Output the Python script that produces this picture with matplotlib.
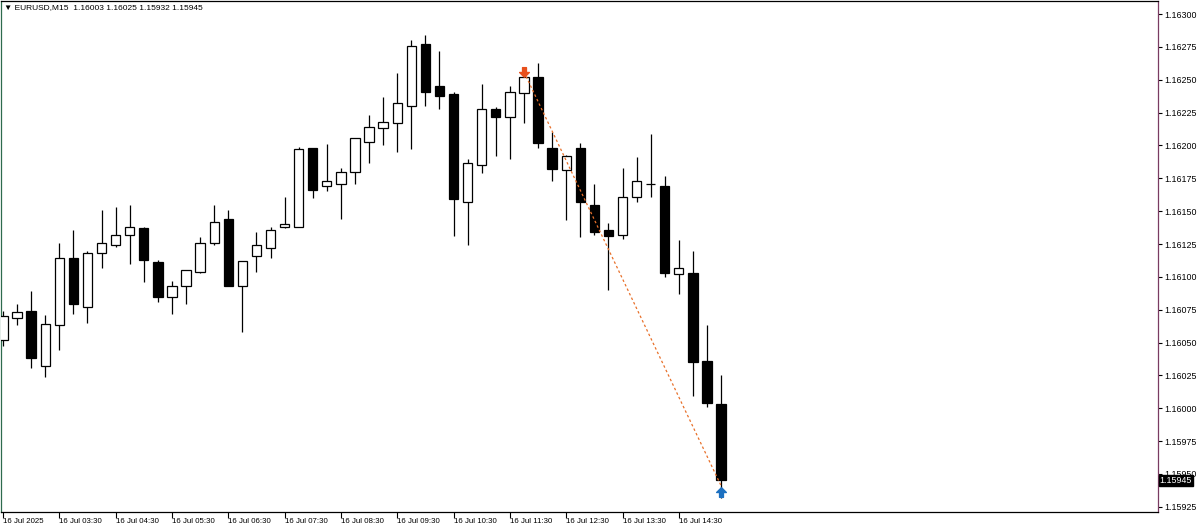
import numpy as np
import matplotlib
matplotlib.use("Agg")
import matplotlib.pyplot as plt
import pandas as pd
from matplotlib.transforms import blended_transform_factory

plt.rcParams['font.family'] = ['Liberation Sans', 'DejaVu Sans']

# EURUSD M15 candles, 16 Jul 2025 from 02:30
times = pd.date_range('2025-07-16 02:30', periods=52, freq='15min')
opens = [1.16052, 1.16069, 1.16074, 1.16032, 1.16063, 1.16114, 1.16077, 1.16118, 1.16124, 1.16132,
         1.16137, 1.16111, 1.16085, 1.16093, 1.16104, 1.16126, 1.16144, 1.16093, 1.16116, 1.16122,
         1.16138, 1.16138, 1.16198, 1.16169, 1.16171, 1.16180, 1.16203, 1.16213, 1.16217, 1.16230,
         1.16277, 1.16245, 1.16239, 1.16157, 1.16185, 1.16228, 1.16222, 1.16240, 1.16252, 1.16198,
         1.16181, 1.16198, 1.16155, 1.16136, 1.16132, 1.16161, 1.16171, 1.16169, 1.16102, 1.16103,
         1.16036, 1.16003]
highs = [1.16074, 1.16079, 1.16089, 1.16071, 1.16126, 1.16136, 1.16120, 1.16151, 1.16153, 1.16155,
         1.16138, 1.16113, 1.16097, 1.16105, 1.16130, 1.16155, 1.16151, 1.16112, 1.16134, 1.16138,
         1.16161, 1.16199, 1.16198, 1.16201, 1.16183, 1.16206, 1.16223, 1.16237, 1.16255, 1.16280,
         1.16284, 1.16272, 1.16241, 1.16190, 1.16247, 1.16229, 1.16245, 1.16260, 1.16263, 1.16210,
         1.16193, 1.16202, 1.16171, 1.16141, 1.16183, 1.16191, 1.16209, 1.16177, 1.16128, 1.16120,
         1.16063, 1.16025]
lows = [1.16047, 1.16063, 1.16031, 1.16024, 1.16044, 1.16072, 1.16065, 1.16107, 1.16123, 1.16110,
        1.16096, 1.16081, 1.16072, 1.16079, 1.16103, 1.16124, 1.16093, 1.16058, 1.16104, 1.16114,
        1.16137, 1.16138, 1.16160, 1.16165, 1.16144, 1.16171, 1.16187, 1.16200, 1.16195, 1.16197,
        1.16230, 1.16228, 1.16131, 1.16124, 1.16179, 1.16192, 1.16190, 1.16217, 1.16198, 1.16173,
        1.16143, 1.16130, 1.16132, 1.16090, 1.16129, 1.16157, 1.16161, 1.16100, 1.16087, 1.16009,
        1.16001, 1.15932]
closes = [1.16070, 1.16073, 1.16038, 1.16064, 1.16114, 1.16079, 1.16118, 1.16126, 1.16132, 1.16138,
          1.16113, 1.16085, 1.16093, 1.16105, 1.16126, 1.16142, 1.16093, 1.16112, 1.16124, 1.16136,
          1.16140, 1.16197, 1.16166, 1.16173, 1.16180, 1.16206, 1.16214, 1.16218, 1.16232, 1.16276,
          1.16241, 1.16238, 1.16159, 1.16187, 1.16228, 1.16222, 1.16241, 1.16252, 1.16202, 1.16182,
          1.16192, 1.16157, 1.16134, 1.16131, 1.16161, 1.16173, 1.16171, 1.16103, 1.16107, 1.16035,
          1.16004, 1.15945]

# trade: sell arrow -> buy arrow
trade_open_bar, trade_open_price = 37, 1.16256
trade_close_bar, trade_close_price = 51, 1.15941

x = np.arange(len(opens))
o = np.array(opens); h = np.array(highs); l = np.array(lows); c = np.array(closes)

fig = plt.figure(figsize=(12, 5.29), dpi=100)
ax = fig.add_axes([1/1200, 17/529, 1157/1200, 511/529])
ax.set_xlim(-0.14, 82.03)
ax.set_ylim(1.15921, 1.16310)

# wicks
ax.vlines(x, l, h, color='black', linewidth=0.9, zorder=2)
# bodies
bull = c >= o
ax.bar(x, np.abs(c - o), bottom=np.minimum(o, c), width=0.66,
       color=np.where(bull, 'white', 'black'), edgecolor='black', linewidth=0.9, zorder=3)

# trade line and arrows
ax.plot([trade_open_bar, trade_close_bar], [trade_open_price, trade_close_price],
        linestyle=(0, (2, 2)), color='#e8702a', linewidth=0.9, zorder=4)
up_arrow = [(0, 1), (-1, 0), (-0.4, 0), (-0.4, -1), (0.4, -1), (0.4, 0), (1, 0), (0, 1)]
down_arrow = [(px, -py) for px, py in up_arrow]
ax.plot([trade_open_bar], [trade_open_price], marker=down_arrow, markersize=7,
        color='#e8501c', linestyle='none', zorder=5)
ax.plot([trade_close_bar], [trade_close_price - 0.00005], marker=up_arrow, markersize=7,
        color='#1c70c0', linestyle='none', zorder=5)

# axes styling
for s in ['top', 'bottom']:
    ax.spines[s].set_color('black')
ax.spines['right'].set_color('#7a3b62')
ax.spines['left'].set_color('#2e6b4e')
for s in ax.spines.values():
    s.set_linewidth(0.9)

ax.yaxis.tick_right()
yt = np.round(np.arange(1.15925, 1.163001, 0.00025), 5)
ax.set_yticks(yt)
ax.set_yticklabels([f'{v:.5f}' for v in yt])
ax.tick_params(axis='y', direction='out', length=3, width=0.8, pad=1.5, labelsize=6.4,
               colors='black')

tick_idx = [i for i, t in enumerate(times) if t.minute == 30]
tick_lbl = []
for i in tick_idx:
    t = times[i]
    tick_lbl.append(t.strftime('%d %b %Y') if i == 0 else t.strftime('%d %b %H:%M'))
ax.set_xticks(tick_idx)
ax.set_xticklabels(tick_lbl)
ax.tick_params(axis='x', direction='out', length=4, width=0.8, pad=0.5, labelsize=5.7,
               colors='black')
for lab in ax.get_xticklabels():
    lab.set_horizontalalignment('left')

# current price label
tr = blended_transform_factory(ax.transAxes, ax.transData)
ax.text(1.0015, c[-1], f'{c[-1]:.5f}', transform=tr, color='white', fontsize=6.4,
        va='center', ha='left', clip_on=False, zorder=10,
        bbox=dict(boxstyle='square,pad=0.12', facecolor='black', edgecolor='black'))

# header
fig.text(4/1200, 1 - 8/529,
         f'\u25bc EURUSD,M15  {o[-1]:.5f} {h[-1]:.5f} {l[-1]:.5f} {c[-1]:.5f}',
         fontsize=6.0, va='center', ha='left', color='black')

fig.savefig('out.png', dpi=100)
